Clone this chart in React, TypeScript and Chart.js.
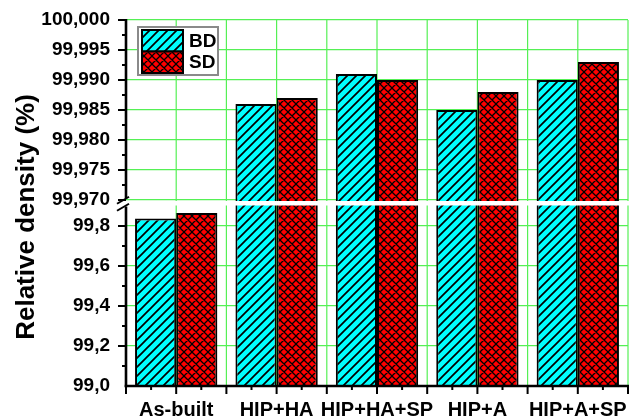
import React, { useEffect, useRef } from 'react';
import { Chart, registerables } from 'chart.js';

Chart.register(...registerables);

// ---- data ----
const categories = ['As-built', 'HIP+HA', 'HIP+HA+SP', 'HIP+A', 'HIP+A+SP'];
const seriesNames = ['BD', 'SD'];
const bdValues = [99.837, 99.986, 99.991, 99.985, 99.99];
const sdValues = [99.865, 99.987, 99.99, 99.988, 99.993];
const upperTicks = [99.97, 99.975, 99.98, 99.985, 99.99, 99.995, 100.0];
const upperMinorTicks = [99.9725, 99.9775, 99.9825, 99.9875, 99.9925, 99.9975];
const lowerTicks = [99.0, 99.2, 99.4, 99.6, 99.8];
const lowerMinorTicks = [99.1, 99.3, 99.5, 99.7];
const upperRange = [99.9695, 100.0];
const lowerRange = [99.0, 99.915];
const yTitle = 'Relative density (%)';

// ---- style ----
const FONT = '"Liberation Sans", Arial, sans-serif';
const GRID = '#55f055';
const BD_COLOR = '#00ffff';
const SD_COLOR = '#ff0000';

function makePattern(kind: 'diag' | 'cross', bg: string, s: number, lw: number): CanvasPattern | string {
  const c = document.createElement('canvas');
  c.width = s;
  c.height = s;
  const g = c.getContext('2d');
  if (!g) return bg;
  g.fillStyle = bg;
  g.fillRect(0, 0, s, s);
  g.strokeStyle = '#000';
  g.lineWidth = lw;
  g.beginPath();
  g.moveTo(-2, s + 2); g.lineTo(s + 2, -2);
  g.moveTo(-2, 2); g.lineTo(2, -2);
  g.moveTo(s - 2, s + 2); g.lineTo(s + 2, s - 2);
  if (kind === 'cross') {
    g.moveTo(-2, -2); g.lineTo(s + 2, s + 2);
    g.moveTo(s - 2, -2); g.lineTo(s + 2, 2);
    g.moveTo(-2, s - 2); g.lineTo(2, s + 2);
  }
  g.stroke();
  return g.createPattern(c, 'repeat') || bg;
}

export default function App() {
  const ref = useRef<HTMLCanvasElement | null>(null);

  useEffect(() => {
    document.body.style.margin = '0';
    const canvas = ref.current;
    if (!canvas) return;
    const bdFill = makePattern('diag', BD_COLOR, 9, 1.7);
    const sdFill = makePattern('cross', SD_COLOR, 8, 1.3);
    const fills = [bdFill, sdFill];

    const lowPart = (vals: number[]) => vals.map((v) => [lowerRange[0], Math.min(v, lowerRange[1])]);
    const highPart = (vals: number[]) => vals.map((v) => (v >= upperRange[0] ? [upperRange[0], v] : null));

    const barCommon = {
      borderColor: '#000',
      borderWidth: 2,
      borderSkipped: 'start',
      categoryPercentage: 0.82,
      barPercentage: 1.0,
    };

    const decor = {
      id: 'decor',
      beforeDatasetsDraw(chart: any) {
        const { ctx, chartArea: a, scales } = chart;
        const x = scales.x;
        const half = (x.getPixelForValue(1) - x.getPixelForValue(0)) / 2;
        ctx.save();
        ctx.strokeStyle = GRID;
        ctx.lineWidth = 1.2;
        for (let i = 0; i < categories.length; i++) {
          const c = x.getPixelForValue(i);
          for (const px of [c, c + half]) {
            ctx.beginPath();
            ctx.moveTo(px, a.top);
            ctx.lineTo(px, a.bottom);
            ctx.stroke();
          }
        }
        ctx.restore();
      },
      afterDatasetsDraw(chart: any) {
        const { ctx, chartArea: a, scales } = chart;
        const x = scales.x;
        const yH = scales.yHigh;
        const yL = scales.yLow;
        const half = (x.getPixelForValue(1) - x.getPixelForValue(0)) / 2;
        ctx.save();
        // white break band
        const bandTop = yH.getPixelForValue(upperTicks[0]) + 1;
        const bandBot = yL.getPixelForValue(99.9) - 0.5;
        ctx.fillStyle = '#fff';
        ctx.fillRect(a.left + 1, bandTop, chart.width - a.left, bandBot - bandTop);

        ctx.strokeStyle = '#000';
        ctx.lineWidth = 2.6;
        ctx.lineCap = 'butt';
        // left axis (broken)
        ctx.beginPath();
        ctx.moveTo(a.left, a.top - 1);
        ctx.lineTo(a.left, bandTop - 3);
        ctx.moveTo(a.left, bandBot + 1);
        ctx.lineTo(a.left, a.bottom + 1.3);
        ctx.stroke();
        // bottom axis
        ctx.beginPath();
        ctx.moveTo(a.left - 1.3, a.bottom);
        ctx.lineTo(a.right + 1, a.bottom);
        ctx.stroke();

        // y ticks
        ctx.lineWidth = 2;
        const yt = (scale: any, vals: number[], len: number) => {
          for (const v of vals) {
            const py = scale.getPixelForValue(v);
            ctx.beginPath();
            ctx.moveTo(a.left - len, py);
            ctx.lineTo(a.left, py);
            ctx.stroke();
          }
        };
        yt(yH, upperTicks, 8);
        yt(yH, upperMinorTicks, 4);
        yt(yL, lowerTicks.slice(1), 8);
        yt(yL, lowerMinorTicks, 4);
        // x ticks
        for (let i = 0; i <= categories.length; i++) {
          const c = x.getPixelForValue(i) - half;
          const items: [number, number][] = [[c, 8]];
          if (i < categories.length) {
            items.push([c + half, 8], [c + half / 2, 4], [c + (3 * half) / 2, 4]);
          }
          for (const [px, len] of items) {
            ctx.beginPath();
            ctx.moveTo(px, a.bottom);
            ctx.lineTo(px, a.bottom + len);
            ctx.stroke();
          }
        }
        // break mark
        ctx.lineWidth = 2;
        const my = (bandTop + bandBot) / 2;
        for (const dy of [-3.5, 3.5]) {
          ctx.beginPath();
          ctx.moveTo(a.left - 9, my + dy + 4);
          ctx.lineTo(a.left + 3, my + dy - 3);
          ctx.stroke();
        }

        // y title
        ctx.fillStyle = '#000';
        ctx.font = `bold 26px ${FONT}`;
        ctx.textAlign = 'center';
        ctx.textBaseline = 'middle';
        ctx.translate(27, (a.top + a.bottom) / 2 + 14);
        ctx.rotate(-Math.PI / 2);
        ctx.fillText(yTitle, 0, 0);
        ctx.restore();
      },
      afterDraw(chart: any) {
        const { ctx, chartArea: a } = chart;
        ctx.save();
        const bx = a.left + 12;
        const by = a.top + 7;
        const bw = 80;
        const bh = 48;
        ctx.fillStyle = '#fff';
        ctx.fillRect(bx, by, bw, bh);
        ctx.strokeStyle = '#8a8a8a';
        ctx.lineWidth = 2;
        ctx.strokeRect(bx, by, bw, bh);
        const sw = 41;
        const sh = 21.5;
        ctx.font = `bold 19px ${FONT}`;
        ctx.textAlign = 'left';
        ctx.textBaseline = 'middle';
        seriesNames.forEach((name, i) => {
          const sx = bx + 4;
          const sy = by + 3 + i * sh;
          ctx.fillStyle = fills[i] as any;
          ctx.fillRect(sx, sy, sw, sh);
          ctx.strokeStyle = '#000';
          ctx.lineWidth = 2;
          ctx.strokeRect(sx, sy, sw, sh);
          ctx.fillStyle = '#000';
          ctx.fillText(name, sx + sw + 6, sy + sh / 2 + 1);
        });
        ctx.restore();
      },
    };

    const tickFont = { family: FONT, size: 19, weight: 'bold' as const };
    const fitY = (s: any) => { s.width = 126; s.paddingTop = 0; s.paddingBottom = 0; };

    const chart = new Chart(canvas, {
      type: 'bar',
      data: {
        labels: categories,
        datasets: [
          { ...barCommon, label: seriesNames[0], stack: 'BD', yAxisID: 'yLow', data: lowPart(bdValues), backgroundColor: bdFill } as any,
          { ...barCommon, label: seriesNames[0], stack: 'BD', yAxisID: 'yHigh', data: highPart(bdValues), backgroundColor: bdFill } as any,
          { ...barCommon, label: seriesNames[1], stack: 'SD', yAxisID: 'yLow', data: lowPart(sdValues), backgroundColor: sdFill } as any,
          { ...barCommon, label: seriesNames[1], stack: 'SD', yAxisID: 'yHigh', data: highPart(sdValues), backgroundColor: sdFill } as any,
        ],
      },
      options: {
        responsive: false,
        animation: false,
        devicePixelRatio: 1,
        layout: { padding: { top: 20, right: 4, left: 0, bottom: 0 } },
        plugins: { legend: { display: false }, tooltip: { enabled: false } },
        scales: {
          x: {
            grid: { display: false },
            border: { display: false },
            ticks: {
              font: { family: FONT, size: 20, weight: 'bold' },
              color: '#000',
              maxRotation: 0,
              minRotation: 0,
              autoSkip: false,
              padding: 4,
            },
            afterFit: (s: any) => { s.height = 33; s.paddingLeft = 0; s.paddingRight = 0; },
          },
          yLow: {
            type: 'linear',
            position: 'left',
            stack: 'y',
            stackWeight: 1,
            stacked: false,
            min: lowerRange[0],
            max: lowerRange[1],
            grid: { color: GRID, lineWidth: 1.2, drawTicks: false },
            border: { display: false },
            afterBuildTicks: (s: any) => { s.ticks = lowerTicks.map((v) => ({ value: v })); },
            ticks: {
              font: tickFont,
              color: '#000',
              padding: 16,
              autoSkip: false,
              callback: (v: any) => Number(v).toFixed(1).replace('.', ','),
            },
            afterFit: fitY,
          },
          yHigh: {
            type: 'linear',
            position: 'left',
            stack: 'y',
            stackWeight: 1,
            stacked: false,
            min: upperRange[0],
            max: upperRange[1],
            grid: { color: GRID, lineWidth: 1.2, drawTicks: false },
            border: { display: false },
            afterBuildTicks: (s: any) => { s.ticks = upperTicks.map((v) => ({ value: v })); },
            ticks: {
              font: tickFont,
              color: '#000',
              padding: 16,
              autoSkip: false,
              callback: (v: any) => Number(v).toFixed(3).replace('.', ','),
            },
            afterFit: fitY,
          },
        } as any,
      },
      plugins: [decor],
    });
    return () => chart.destroy();
  }, []);

  return (
    <div style={{ width: 632, height: 419 }}>
      <canvas ref={ref} width={632} height={419} style={{ display: 'block' }} />
    </div>
  );
}
